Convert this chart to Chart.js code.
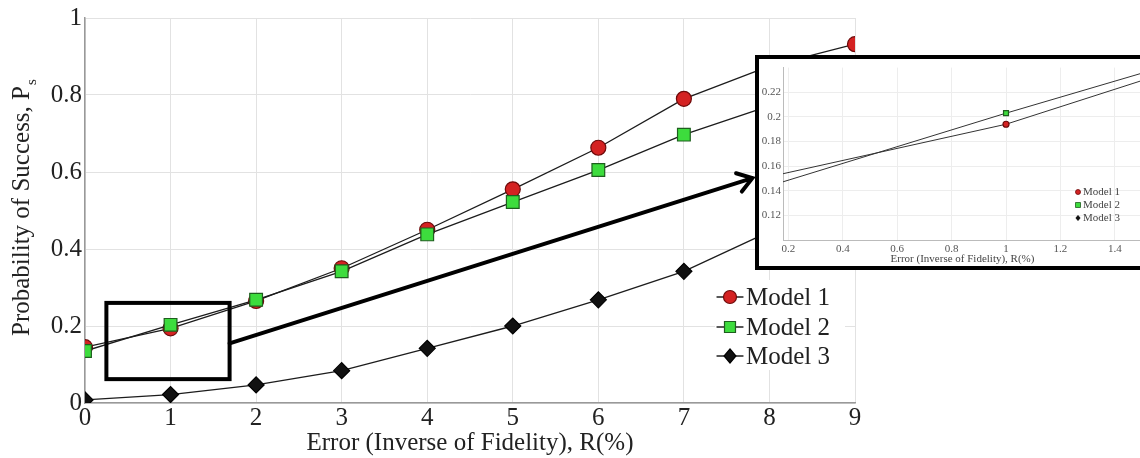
<!DOCTYPE html>
<html>
<head>
<meta charset="utf-8">
<script src="https://cdn.jsdelivr.net/npm/chart.js@4.4.0/dist/chart.umd.min.js"></script>
<style>
  html, body { margin: 0; padding: 0; background: #fff; overflow: hidden; }
  #wrap { position: relative; width: 1140px; height: 458px; }
  #main { position: absolute; left: 0; top: 0; }
  #inset { position: absolute; left: 755px; top: 55px; width: 400px; height: 207px;
           border: 4px solid #000; background: #fff; }
</style>
</head>
<body>
<div id="wrap">
  <canvas id="main" width="1140" height="458"></canvas>
  <div id="inset"><canvas id="insetCanvas" width="400" height="207"></canvas></div>
</div>
<script>
// error R(%) on the x axis
const errorR = [0, 1, 2, 3, 4, 5, 6, 7, 8, 9];
// probability of success per model
const model1 = [0.145, 0.194, 0.265, 0.35, 0.45, 0.555, 0.663, 0.79, 0.875, 0.932];
const model2 = [0.135, 0.203, 0.268, 0.342, 0.438, 0.522, 0.605, 0.697, 0.772, 0.84];
const model3 = [0.008, 0.022, 0.047, 0.084, 0.142, 0.2, 0.268, 0.342, 0.445, 0.55];
const seriesNames = ["Model 1", "Model 2", "Model 3"];

const mainYTicks = [0, 0.2, 0.4, 0.6, 0.8, 1];
const insetXTicks = [0.2, 0.4, 0.6, 0.8, 1, 1.2, 1.4];
const insetYTicks = [0.12, 0.14, 0.16, 0.18, 0.2, 0.22];

const FONT = "'Liberation Serif', 'Times New Roman', serif";
Chart.defaults.font.family = FONT;

const styles = [
  { pointStyle: "circle", fill: "#d42222", stroke: "#6e0a0a" },
  { pointStyle: "rect", fill: "#3ddc3d", stroke: "#1e5e1e" },
  { pointStyle: "rectRot", fill: "#111", stroke: "#000" },
];

function toPoints(vals) {
  return vals.map((v, i) => ({ x: errorR[i], y: v }));
}

function fmt(v) {
  return String(+Number(v).toFixed(2));
}

function drawMarker(ctx, style, x, y, r) {
  ctx.beginPath();
  if (style === "circle") {
    ctx.arc(x, y, r, 0, Math.PI * 2);
  } else if (style === "rect") {
    ctx.rect(x - r, y - r, 2 * r, 2 * r);
  } else {
    ctx.moveTo(x, y - r);
    ctx.lineTo(x + r * 0.85, y);
    ctx.lineTo(x, y + r);
    ctx.lineTo(x - r * 0.85, y);
    ctx.closePath();
  }
  ctx.fill();
  ctx.stroke();
}

function makeDatasets(sizes, lineColor, lineWidth) {
  return [model1, model2, model3].map((vals, i) => ({
    label: seriesNames[i],
    data: toPoints(vals),
    borderColor: lineColor,
    borderWidth: lineWidth,
    pointStyle: styles[i].pointStyle,
    pointRadius: sizes[i],
    pointBackgroundColor: styles[i].fill,
    pointBorderColor: styles[i].stroke,
    pointBorderWidth: 1.2,
    order: [2, 1, 0][i],
  }));
}

// rectangle + arrow drawn in data units of the main chart
const zoomBox = { x0: 0.25, x1: 1.69, y0: 0.062, y1: 0.26 };
const arrow = { x0: 1.69, y0: 0.155, x1: 7.8, y1: 0.584 };

const mainExtras = {
  id: "mainExtras",
  afterDatasetsDraw(chart) {
    const { ctx, scales: { x, y } } = chart;
    ctx.save();
    // zoom rectangle
    ctx.strokeStyle = "#000";
    ctx.lineWidth = 4;
    const rx = x.getPixelForValue(zoomBox.x0), ry = y.getPixelForValue(zoomBox.y1);
    ctx.strokeRect(rx, ry, x.getPixelForValue(zoomBox.x1) - rx, y.getPixelForValue(zoomBox.y0) - ry);
    // arrow
    const ax = x.getPixelForValue(arrow.x0), ay = y.getPixelForValue(arrow.y0);
    const bx = x.getPixelForValue(arrow.x1), by = y.getPixelForValue(arrow.y1);
    const ang = Math.atan2(by - ay, bx - ax);
    ctx.lineCap = "round";
    ctx.beginPath();
    ctx.moveTo(ax, ay);
    ctx.lineTo(bx, by);
    ctx.moveTo(bx - 17 * Math.cos(ang - 0.6), by - 17 * Math.sin(ang - 0.6));
    ctx.lineTo(bx, by);
    ctx.lineTo(bx - 17 * Math.cos(ang + 0.6), by - 17 * Math.sin(ang + 0.6));
    ctx.stroke();

    // legend
    ctx.fillStyle = "#fff";
    ctx.fillRect(715, 280, 130, 90);
    const rows = [297, 327, 356];
    const rad = [6.5, 5.5, 7];
    ctx.font = "25px " + FONT;
    ctx.textBaseline = "middle";
    rows.forEach((ry2, i) => {
      ctx.strokeStyle = "#222";
      ctx.lineWidth = 1.3;
      ctx.beginPath();
      ctx.moveTo(717, ry2);
      ctx.lineTo(743, ry2);
      ctx.stroke();
      ctx.fillStyle = styles[i].fill;
      ctx.strokeStyle = styles[i].stroke;
      ctx.lineWidth = 1.2;
      drawMarker(ctx, styles[i].pointStyle, 730, ry2, rad[i]);
      ctx.fillStyle = "#222";
      ctx.fillText(seriesNames[i], 746, ry2 + 1);
    });

    // y axis title with subscript
    ctx.save();
    ctx.translate(29, 207);
    ctx.rotate(-Math.PI / 2);
    ctx.fillStyle = "#222";
    ctx.font = "25px " + FONT;
    ctx.textBaseline = "alphabetic";
    const main = "Probability of Success, P";
    const w = ctx.measureText(main).width;
    ctx.fillText(main, -w / 2 - 4, 0);
    ctx.font = "15px " + FONT;
    ctx.fillText("s", w / 2 - 3, 7);
    ctx.restore();
    ctx.restore();
  },
};

new Chart(document.getElementById("main"), {
  type: "line",
  data: { datasets: makeDatasets([7.5, 9, 8], "#1c1c1c", 1.3) },
  options: {
    responsive: false,
    animation: false,
    events: [],
    layout: { padding: { top: 18, right: 285, left: 0, bottom: 0 } },
    plugins: { legend: { display: false }, tooltip: { enabled: false } },
    scales: {
      x: {
        type: "linear", min: 0, max: 9,
        ticks: { stepSize: 1, color: "#222", font: { size: 25 }, padding: 0, callback: fmt },
        grid: { color: "#e2e2e2", drawTicks: false },
        border: { color: "#999", width: 1.5 },
        title: { display: true, text: "Error (Inverse of Fidelity), R(%)", color: "#222",
                 font: { size: 25 }, padding: 0 },
        afterFit: (s) => { s.height = 55; },
      },
      y: {
        min: 0, max: 1,
        afterBuildTicks: (s) => { s.ticks = mainYTicks.map((v) => ({ value: v })); },
        ticks: { color: "#222", font: { size: 25 }, padding: 3, callback: fmt },
        grid: { color: "#e2e2e2", drawTicks: false },
        border: { color: "#999", width: 1.5 },
        afterFit: (s) => { s.width = 85; },
      },
    },
  },
  plugins: [mainExtras],
});

const insetLegend = {
  id: "insetLegend",
  afterDatasetsDraw(chart) {
    const { ctx } = chart;
    ctx.save();
    ctx.font = "11px " + FONT;
    ctx.textBaseline = "middle";
    [133, 146, 159].forEach((ry, i) => {
      ctx.fillStyle = styles[i].fill;
      ctx.strokeStyle = styles[i].stroke;
      ctx.lineWidth = 0.8;
      drawMarker(ctx, styles[i].pointStyle, 319, ry, 2.5);
      ctx.fillStyle = "#444";
      ctx.fillText(seriesNames[i], 324, ry);
    });
    ctx.restore();
  },
};

new Chart(document.getElementById("insetCanvas"), {
  type: "line",
  data: { datasets: makeDatasets([3, 3.5, 3], "#333", 1) },
  options: {
    responsive: false,
    animation: false,
    events: [],
    layout: { padding: { top: 6, right: 17, left: 0, bottom: 0 } },
    plugins: { legend: { display: false }, tooltip: { enabled: false } },
    scales: {
      x: {
        type: "linear", min: 0.18, max: 1.5,
        afterBuildTicks: (s) => { s.ticks = insetXTicks.map((v) => ({ value: v })); },
        ticks: { color: "#555", font: { size: 11 }, padding: 3, callback: fmt },
        grid: { color: "#ededed", drawTicks: false },
        border: { color: "#bbb", width: 1 },
        title: { display: true, text: "Error (Inverse of Fidelity), R(%)", color: "#444",
                 font: { size: 11 }, padding: 0 },
        afterFit: (s) => { s.height = 26; },
      },
      y: {
        min: 0.1, max: 0.24,
        afterBuildTicks: (s) => { s.ticks = insetYTicks.map((v) => ({ value: v })); },
        ticks: { color: "#555", font: { size: 11 }, padding: 2, callback: fmt },
        grid: { color: "#ededed", drawTicks: false },
        border: { color: "#bbb", width: 1 },
        afterFit: (s) => { s.width = 24; },
      },
    },
  },
  plugins: [insetLegend],
});
</script>
</body>
</html>
